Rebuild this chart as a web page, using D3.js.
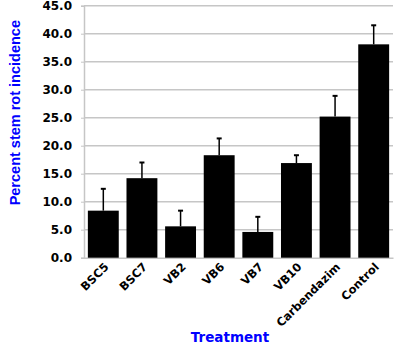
<!DOCTYPE html>
<html><head><meta charset="utf-8">
<script src="https://cdn.jsdelivr.net/npm/d3@7"></script>
<style>body{margin:0;background:#fff}svg{display:block}</style>
</head><body>
<script>
const categories = ["BSC5","BSC7","VB2","VB6","VB7","VB10","Carbendazim","Control"];
const values = [8.4, 14.2, 5.6, 18.3, 4.6, 16.9, 25.2, 38.1];
const errors = [3.9, 2.8, 2.8, 3.0, 2.7, 1.4, 3.7, 3.4];
const yTicks = [0,5,10,15,20,25,30,35,40,45];

const W = 397, H = 348;
const m = {left: 84, right: 4, top: 5.7, bottom: 90.3};
const svg = d3.select("body").append("svg").attr("width", W).attr("height", H);

const x = d3.scaleBand().domain(categories).range([m.left, W - m.right]).paddingInner(0.2).paddingOuter(0.1);
const y = d3.scaleLinear().domain([0,45]).range([H - m.bottom, m.top]);

// gridlines
svg.append("g").selectAll("line").data(yTicks.filter(d=>d>0)).join("line")
  .attr("x1", m.left).attr("x2", W - m.right)
  .attr("y1", d=>y(d)).attr("y2", d=>y(d))
  .attr("stroke", "#c6c6c6").attr("stroke-width", 1.5);

// y axis
const ya = svg.append("g").attr("transform", `translate(${m.left},0)`)
  .call(d3.axisLeft(y).tickValues(yTicks).tickFormat(d3.format(".1f")).tickSize(3).tickPadding(9));
ya.select(".domain").attr("stroke", "#c6c6c6").attr("stroke-width", 1.5);
ya.selectAll(".tick line").attr("stroke", "#c6c6c6");
ya.selectAll("text").attr("font-family", "DejaVu Sans").attr("font-weight", "bold")
  .attr("font-size", 12).attr("fill", "#000");

// x axis
const xa = svg.append("g").attr("transform", `translate(0,${y(0)})`)
  .call(d3.axisBottom(x).tickSize(0).tickPadding(0));
xa.select(".domain").attr("stroke", "#c6c6c6").attr("stroke-width", 1.5);
xa.selectAll(".tick text")
  .attr("font-family", "DejaVu Sans").attr("font-weight", "bold").attr("font-size", 11.5).attr("fill", "#000")
  .attr("text-anchor", "end").attr("dy", 0).attr("y", 0)
  .attr("transform", "translate(6,10) rotate(-45)");

// bars
svg.append("g").selectAll("rect").data(categories).join("rect")
  .attr("x", d=>x(d)).attr("width", x.bandwidth())
  .attr("y", (d,i)=>y(values[i])).attr("height", (d,i)=>y(0)-y(values[i]))
  .attr("fill", "#000");

// error bars
const eb = svg.append("g").attr("stroke", "#000").attr("stroke-width", 1.5);
categories.forEach((c,i)=>{
  const cx = x(c) + x.bandwidth()/2;
  eb.append("line").attr("x1", cx).attr("x2", cx).attr("y1", y(values[i])).attr("y2", y(values[i]+errors[i]));
  eb.append("line").attr("x1", cx-2.5).attr("x2", cx+2.5).attr("y1", y(values[i]+errors[i])).attr("y2", y(values[i]+errors[i])).attr("stroke-width", 2);
});

// titles
svg.append("text").attr("transform", `translate(20,${(y(0)+y(45))/2 - 19}) rotate(-90)`)
  .attr("text-anchor", "middle").attr("font-family", "Liberation Sans").attr("font-weight", "bold")
  .attr("font-size", 14.5).attr("fill", "#0000ff").text("Percent stem rot incidence");
svg.append("text").attr("x", 230).attr("y", 342)
  .attr("text-anchor", "middle").attr("font-family", "DejaVu Sans").attr("font-weight", "bold")
  .attr("font-size", 13.5).attr("fill", "#0000ff").text("Treatment");
</script>
</body></html>
